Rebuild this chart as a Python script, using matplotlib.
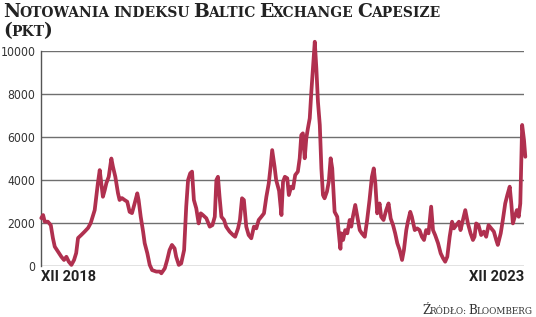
import matplotlib
matplotlib.use("Agg")
import pandas as pd
import matplotlib.pyplot as plt
from matplotlib.transforms import IdentityTransform

# --- data --- #
start = pd.Timestamp("2018-12-03")
days = [1, 8, 14, 26, 37, 45, 52, 64, 77, 87, 96, 105, 115, 125, 133, 140, 152, 165, 178, 188,
        197, 203, 209, 215, 222, 228, 234, 241, 247, 256, 266, 272, 281, 291, 297, 306, 316, 326,
        335, 344, 354, 364, 369, 377, 386, 392, 402, 411, 420, 436, 449, 455, 468, 477, 486, 495,
        505, 511, 521, 530, 541, 549, 556, 564, 571, 578, 587, 596, 604, 612, 625, 638, 648, 657,
        663, 669, 675, 682, 692, 700, 713, 726, 734, 745, 752, 760, 767, 776, 785, 795, 805, 814,
        823, 833, 843, 852, 861, 868, 874, 883, 889, 900, 909, 915, 922, 931, 937, 946, 953, 961,
        971, 978, 984, 990, 997, 1003, 1009, 1016, 1022, 1028, 1035, 1041, 1047, 1054, 1060, 1066,
        1072, 1081, 1088, 1095, 1101, 1110, 1120, 1129, 1132, 1135, 1142, 1150, 1158, 1167, 1173,
        1179, 1188, 1196, 1205, 1213, 1224, 1233, 1242, 1251, 1258, 1264, 1271, 1280, 1286, 1295,
        1305, 1314, 1322, 1331, 1339, 1347, 1356, 1365, 1372, 1381, 1387, 1396, 1402, 1413, 1422,
        1431, 1440, 1448, 1456, 1465, 1475, 1482, 1490, 1501, 1511, 1520, 1528, 1536, 1545, 1554,
        1561, 1570, 1580, 1586, 1595, 1604, 1614, 1624, 1633, 1639, 1645, 1654, 1664, 1674, 1683,
        1692, 1702, 1712, 1721, 1727, 1738, 1746, 1755, 1763, 1772, 1778, 1784, 1791, 1799, 1806,
        1812, 1815, 1819, 1826, 1831]
values = [2230, 2370, 2060, 2060, 1900, 1300, 900, 670, 430, 280, 430, 200, 50, 280, 600, 1300,
          1440, 1600, 1770, 2000, 2370, 2600, 3220, 3850, 4460, 3850, 3220, 3530, 3850, 4150, 5000,
          4620, 4150, 3390, 3070, 3160, 3070, 2990, 2520, 2460, 2910, 3380, 3070, 2290, 1600, 1060,
          590, 50, -190, -260, -260, -340, -110, 280, 740, 980, 820, 430, 50, 120, 740, 2760, 4000,
          4310, 4390, 3070, 2680, 1980, 2450, 2370, 2220, 1830, 1900, 2290, 4000, 4150, 3220, 2290,
          2140, 1830, 1600, 1440, 1360, 1750, 2140, 3150, 3070, 1830, 1440, 1290, 1830, 1750, 2140,
          2290, 2450, 3220, 3840, 4620, 5390, 4620, 4000, 3500, 2370, 3920, 4150, 4080, 3300, 3690,
          3610, 4230, 4390, 5010, 6090, 6170, 5010, 5940, 6400, 6870, 8100, 9190, 10430, 9190,
          7640, 6560, 4540, 3300, 3150, 3460, 3920, 5010, 4540, 2520, 2290, 1130, 800, 1520, 1210,
          1670, 1520, 2140, 1830, 2290, 2840, 2290, 1670, 1520, 1360, 2140, 3070, 4150, 4540, 3840,
          2450, 2910, 2290, 2140, 2600, 2910, 2210, 1900, 1520, 1060, 740, 280, 740, 1670, 2060,
          2520, 2290, 1670, 1750, 1670, 1360, 1210, 1670, 1520, 2760, 1670, 1440, 1060, 590, 360,
          200, 430, 1360, 2060, 1750, 1900, 2060, 1670, 2140, 2600, 1980, 1520, 1210, 1360, 1980,
          1900, 1440, 1600, 1360, 1900, 1750, 1600, 1210, 980, 1520, 2140, 2910, 3300, 3690, 2910,
          1980, 2290, 2600, 2290, 2910, 4460, 6560, 5860, 5080]
dates = start + pd.to_timedelta(days, unit="D")

y_ticks = [0, 2000, 4000, 6000, 8000, 10000]
x_tick_dates = [pd.Timestamp("2018-12-03"), pd.Timestamp("2023-12-03")]
x_labels = ["XII 2018", "XII 2023"]
title = "Notowania indeksu Baltic Exchange Capesize"
unit = "(pkt)"
source = "Źródło: Bloomberg"

LINE = "#b0304f"

fig = plt.figure(figsize=(5.36, 3.17), dpi=100)
ax = fig.add_axes([41 / 536, 1 - 266 / 317, (524 - 41) / 536, 215 / 317])

ax.plot(dates, values, color=LINE, lw=2.7, solid_joinstyle="round",
        solid_capstyle="round", clip_on=False, zorder=3)

ax.set_ylim(0, 10000)
ax.set_xlim(start, start + pd.Timedelta(days=1826))
ax.set_yticks(y_ticks)
ax.set_yticklabels([str(v) for v in y_ticks], family="DejaVu Sans", fontstretch="condensed",
                   fontsize=8.7, color="#333333")
ax.yaxis.grid(True, color="#6f6f6f", lw=1)
ax.set_axisbelow(True)
ax.tick_params(axis="y", length=0, pad=4)
ax.tick_params(axis="x", length=0, pad=3)
ax.set_xticks(x_tick_dates)
ax.set_xticklabels(x_labels, family="Roboto", fontsize=10.5, fontweight="bold",
                   color="#222222")
ax.get_xticklabels()[0].set_ha("left")
ax.get_xticklabels()[1].set_ha("right")
for s in ["top", "right", "bottom"]:
    ax.spines[s].set_visible(False)
ax.spines["left"].set_color("#555555")
ax.spines["left"].set_linewidth(1)


# --- small caps text, drawn piece by piece in pixels --- #
def small_caps(x, y, s, big, small, weight="bold", color="#222222", family="DejaVu Serif",
               ha="left"):
    renderer = fig.canvas.get_renderer()
    runs = []
    for ch in s:
        if ch == " ":
            kind = "space"
        elif ch.islower():
            kind = "small"
        elif ch.isupper() or ch in "()":
            kind = "big"
        else:
            kind = runs[-1][0] if runs and runs[-1][0] != "space" else "small"
        if runs and runs[-1][0] == kind:
            runs[-1][1] += ch
        else:
            runs.append([kind, ch])
    pieces = []
    pos = x
    for kind, txt in runs:
        if kind == "space":
            pos += small * 0.32 * 100 / 72 * len(txt)
            continue
        size = big if kind == "big" else small
        t = fig.text(pos, y, txt.upper(), fontsize=size, fontweight=weight, color=color,
                     family=family, va="baseline", ha="left", transform=IdentityTransform())
        w = t.get_window_extent(renderer).width
        pieces.append(t)
        pos += w - 0.8
    if ha == "right":
        shift = x - pos
        for t in pieces:
            t.set_x(t.get_position()[0] + shift)


small_caps(3, 300, title, 13.5, 10.0)
small_caps(3, 281, unit, 13.5, 10.0)
small_caps(532, 3, source, 8.6, 6.4, weight="normal", color="#333333", ha="right")

fig.savefig("out.png", dpi=100)
